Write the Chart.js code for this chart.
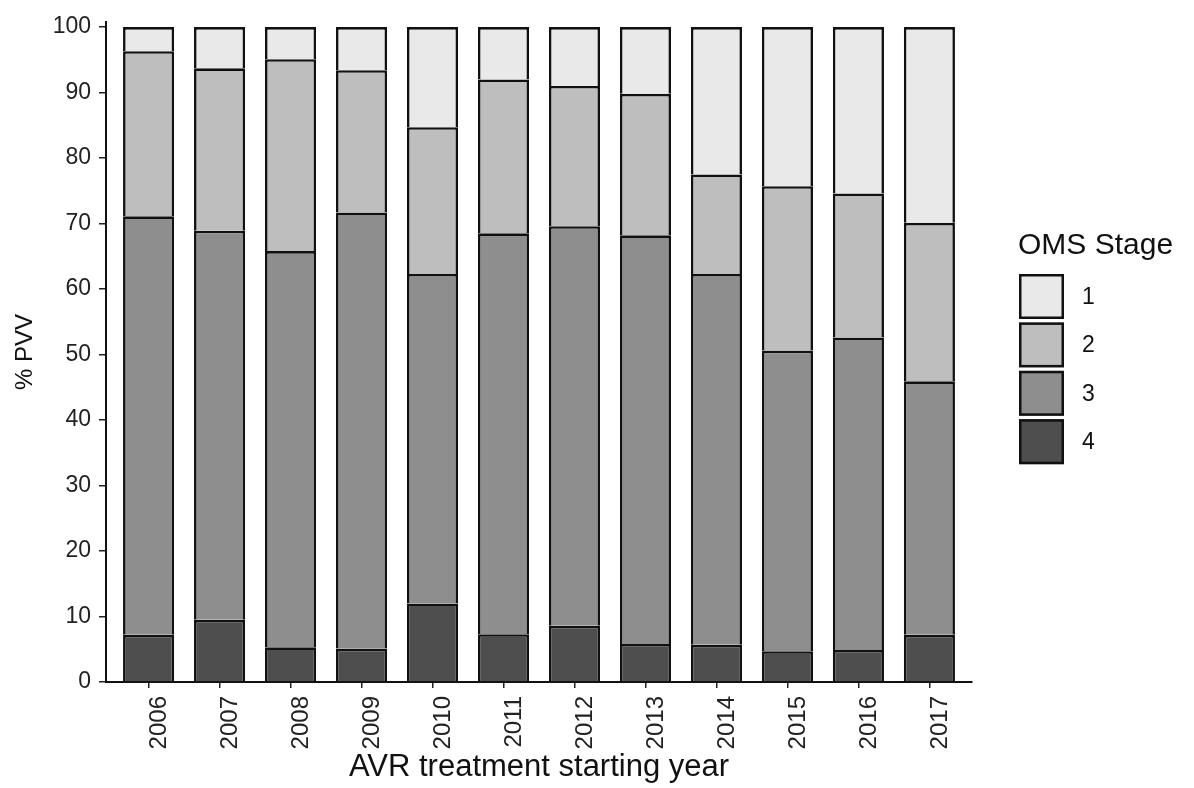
<!DOCTYPE html>
<html>
<head>
<meta charset="utf-8">
<script src="https://cdn.jsdelivr.net/npm/chart.js@4/dist/chart.umd.min.js"></script>
<style>
  html, body { margin: 0; padding: 0; background: #fff; }
  #wrap { width: 1194px; height: 788px; }
</style>
</head>
<body>
<div id="wrap"><canvas id="chart" width="1194" height="788"></canvas></div>
<script>
// values (% of PVV per OMS stage)
const years = ["2006", "2007", "2008", "2009", "2010", "2011", "2012", "2013", "2014", "2015", "2016", "2017"];
const stage1 = [3.7, 6.3, 4.9, 6.6, 15.3, 8.0, 9.0, 10.2, 22.5, 24.3, 25.4, 29.9];
const stage2 = [25.2, 24.8, 29.3, 21.7, 22.4, 23.5, 21.4, 21.6, 15.2, 25.1, 22.0, 24.2];
const stage3 = [63.9, 59.4, 60.5, 66.6, 50.3, 61.2, 61.0, 62.4, 56.6, 45.9, 47.7, 38.7];
const stage4 = [7.2, 9.5, 5.3, 5.1, 12.0, 7.3, 8.6, 5.8, 5.7, 4.7, 4.9, 7.2];
const yTicks = [0, 10, 20, 30, 40, 50, 60, 70, 80, 90, 100];

const FONT = "'Liberation Sans', Arial, sans-serif";

function toPoints(values) {
  return values.map((v, i) => ({ x: i + 1, y: v }));
}

// ggplot-like legend on the right, stacked boxes
const stageLegend = {
  id: "stageLegend",
  afterDraw(chart, args, opts) {
    const ctx = chart.ctx;
    const sets = chart.data.datasets.slice().reverse();
    ctx.save();
    ctx.fillStyle = "#111";
    ctx.font = `30px ${FONT}`;
    ctx.textBaseline = "alphabetic";
    ctx.textAlign = "left";
    ctx.fillText(opts.title, opts.x - 1, opts.titleY);
    sets.forEach((ds, i) => {
      const top = opts.top + i * opts.step;
      ctx.fillStyle = ds.backgroundColor;
      ctx.fillRect(opts.x, top, opts.size, opts.size);
      ctx.lineWidth = 2.5;
      ctx.strokeStyle = "#111";
      ctx.strokeRect(opts.x + 1.25, top + 1.25, opts.size - 2.5, opts.size - 2.5);
      ctx.fillStyle = "#111";
      ctx.font = `23px ${FONT}`;
      ctx.textBaseline = "middle";
      ctx.fillText(ds.label, opts.x + opts.size + 18, top + opts.size / 2 + 1);
    });
    ctx.restore();
  }
};

function stageSet(label, values, color) {
  return {
    label: label,
    data: toPoints(values),
    backgroundColor: color,
    borderColor: "#111",
    borderWidth: 2.6,
    borderSkipped: "start",
    barPercentage: 0.72,
    categoryPercentage: 1.0
  };
}

new Chart(document.getElementById("chart"), {
  type: "bar",
  data: {
    datasets: [
      stageSet("4", stage4, "#4e4e4e"),
      stageSet("3", stage3, "#8e8e8e"),
      stageSet("2", stage2, "#bebebe"),
      stageSet("1", stage1, "#e9e9e9")
    ]
  },
  plugins: [stageLegend],
  options: {
    responsive: false,
    animation: false,
    layout: { padding: { left: 0, right: 222, top: 14, bottom: 0 } },
    plugins: {
      legend: { display: false },
      tooltip: { enabled: false },
      stageLegend: { title: "OMS Stage", x: 1019, titleY: 254, top: 274, step: 48.4, size: 45 }
    },
    scales: {
      x: {
        type: "linear",
        stacked: true,
        offset: false,
        min: 0.4,
        max: 12.6,
        afterBuildTicks: (axis) => { axis.ticks = years.map((_, i) => ({ value: i + 1 })); },
        afterFit: (axis) => { axis.height = 106; },
        ticks: {
          autoSkip: false,
          minRotation: 90,
          maxRotation: 90,
          padding: 8,
          labelOffset: 11,
          color: "#222",
          font: { family: FONT, size: 24 },
          callback: (value) => years[value - 1]
        },
        grid: { offset: false, drawOnChartArea: false, drawTicks: true, tickLength: 6, color: "#222", lineWidth: 1.5 },
        border: { display: true, color: "#111", width: 2 },
        title: {
          display: true,
          text: "AVR treatment starting year",
          color: "#111",
          font: { family: FONT, size: 31 },
          padding: { top: 0, bottom: 2 }
        }
      },
      y: {
        stacked: true,
        min: 0,
        max: 100.8,
        afterBuildTicks: (axis) => { axis.ticks = yTicks.map((v) => ({ value: v })); },
        afterFit: (axis) => { axis.width = 106; },
        ticks: {
          padding: 8,
          color: "#222",
          font: { family: FONT, size: 23 }
        },
        grid: { drawOnChartArea: false, drawTicks: true, tickLength: 7, color: "#222", lineWidth: 1.5 },
        border: { display: true, color: "#111", width: 2 },
        title: {
          display: true,
          text: "% PVV",
          color: "#111",
          font: { family: FONT, size: 24 },
          padding: { top: 11, bottom: 0 }
        }
      }
    }
  }
});
</script>
</body>
</html>
